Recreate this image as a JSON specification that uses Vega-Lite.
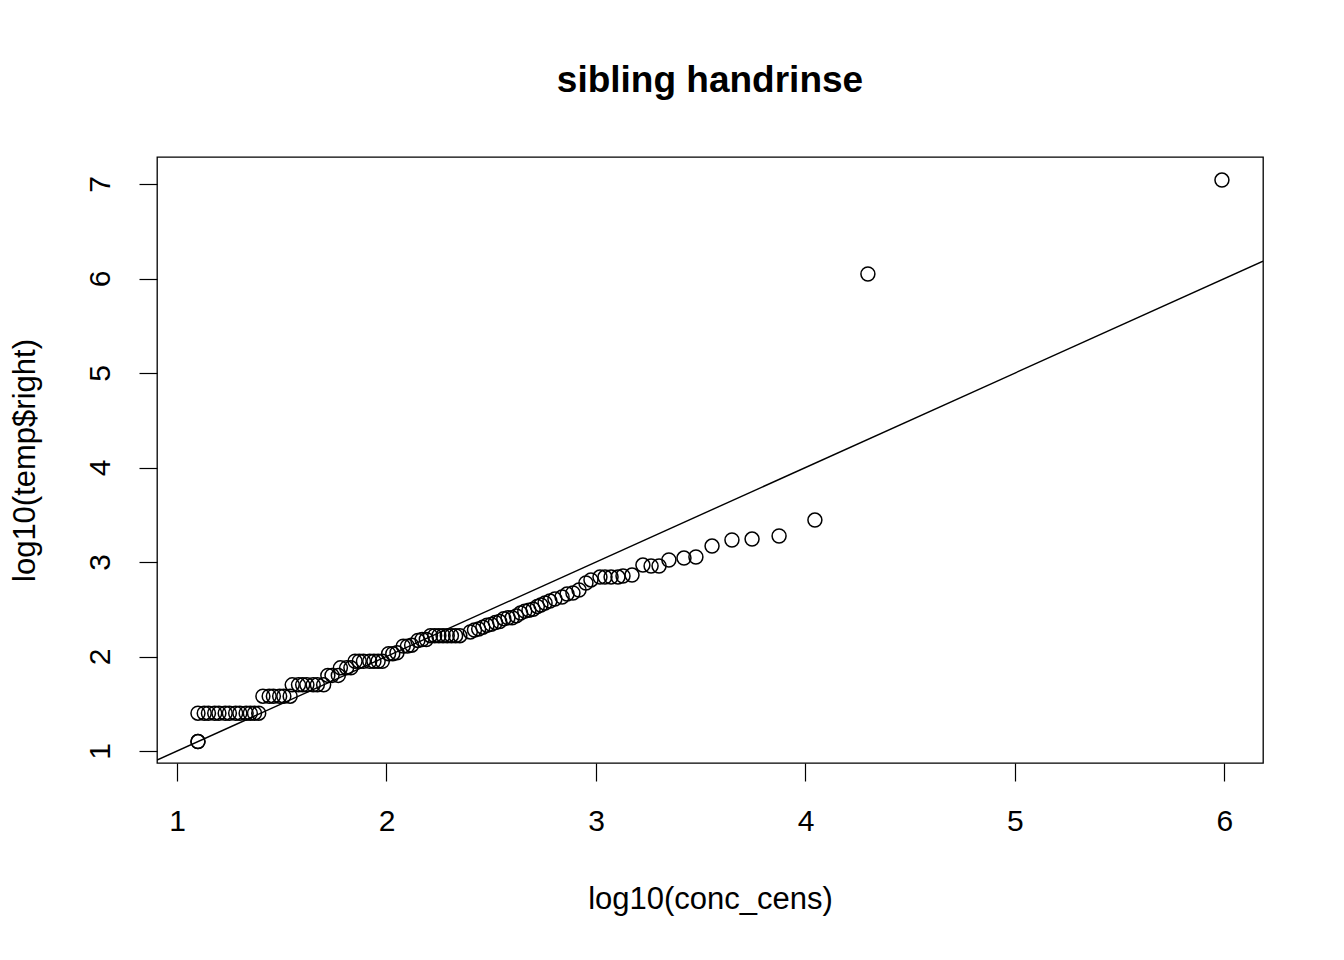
{
  "$schema": "https://vega.github.io/schema/vega-lite/v6.json",
  "width": 1106,
  "height": 606,
  "autosize": "none",
  "padding": {"left": 157, "top": 157, "right": 81, "bottom": 197},
  "background": "white",
  "config": {
    "font": "Liberation Sans",
    "view": {"stroke": "black", "strokeWidth": 1.3},
    "axis": {"grid": false, "domain": false, "tickColor": "black", "tickSize": 18, "tickWidth": 1.2, "labelFont": "Liberation Sans", "labelFontSize": 30, "labelColor": "black", "titleFont": "Liberation Sans", "titleFontSize": 31, "titleFontWeight": "normal", "titleColor": "black", "format": "d"}
  },
  "title": {"text": "sibling handrinse", "fontSize": 37, "fontWeight": "bold", "font": "Liberation Sans", "anchor": "middle", "offset": 57, "color": "black"},
  "datasets": {
    "pts": [
      {"x": 1.10, "y": 1.10}, {"x": 1.10, "y": 1.10},
      {"x": 1.10, "y": 1.40}, {"x": 1.13, "y": 1.40}, {"x": 1.15, "y": 1.40}, {"x": 1.18, "y": 1.40}, {"x": 1.20, "y": 1.40}, {"x": 1.23, "y": 1.40}, {"x": 1.25, "y": 1.40}, {"x": 1.28, "y": 1.40}, {"x": 1.30, "y": 1.40}, {"x": 1.33, "y": 1.40}, {"x": 1.35, "y": 1.40}, {"x": 1.37, "y": 1.40}, {"x": 1.39, "y": 1.40},
      {"x": 1.41, "y": 1.58}, {"x": 1.44, "y": 1.58}, {"x": 1.46, "y": 1.58}, {"x": 1.49, "y": 1.58}, {"x": 1.51, "y": 1.58}, {"x": 1.54, "y": 1.58},
      {"x": 1.55, "y": 1.70}, {"x": 1.58, "y": 1.70}, {"x": 1.60, "y": 1.70}, {"x": 1.62, "y": 1.70}, {"x": 1.65, "y": 1.70}, {"x": 1.67, "y": 1.70}, {"x": 1.70, "y": 1.70},
      {"x": 1.72, "y": 1.80}, {"x": 1.74, "y": 1.80}, {"x": 1.77, "y": 1.80},
      {"x": 1.78, "y": 1.88}, {"x": 1.81, "y": 1.88}, {"x": 1.83, "y": 1.88},
      {"x": 1.85, "y": 1.95}, {"x": 1.87, "y": 1.95}, {"x": 1.89, "y": 1.95}, {"x": 1.92, "y": 1.95}, {"x": 1.94, "y": 1.95}, {"x": 1.96, "y": 1.95}, {"x": 1.98, "y": 1.95},
      {"x": 2.01, "y": 2.03}, {"x": 2.03, "y": 2.03}, {"x": 2.05, "y": 2.04},
      {"x": 2.08, "y": 2.11}, {"x": 2.10, "y": 2.11}, {"x": 2.12, "y": 2.12},
      {"x": 2.15, "y": 2.17}, {"x": 2.17, "y": 2.18}, {"x": 2.19, "y": 2.18},
      {"x": 2.21, "y": 2.22}, {"x": 2.23, "y": 2.22}, {"x": 2.25, "y": 2.22}, {"x": 2.27, "y": 2.22}, {"x": 2.29, "y": 2.22}, {"x": 2.31, "y": 2.22}, {"x": 2.33, "y": 2.22}, {"x": 2.35, "y": 2.22},
      {"x": 2.40, "y": 2.26}, {"x": 2.42, "y": 2.28}, {"x": 2.44, "y": 2.29}, {"x": 2.46, "y": 2.31}, {"x": 2.48, "y": 2.33}, {"x": 2.50, "y": 2.34}, {"x": 2.52, "y": 2.36}, {"x": 2.54, "y": 2.37}, {"x": 2.56, "y": 2.40}, {"x": 2.58, "y": 2.41}, {"x": 2.60, "y": 2.41}, {"x": 2.62, "y": 2.43}, {"x": 2.64, "y": 2.46}, {"x": 2.66, "y": 2.48}, {"x": 2.68, "y": 2.49}, {"x": 2.70, "y": 2.50}, {"x": 2.72, "y": 2.53},
      {"x": 2.737, "y": 2.545}, {"x": 2.757, "y": 2.566}, {"x": 2.780, "y": 2.587}, {"x": 2.804, "y": 2.608}, {"x": 2.838, "y": 2.630}, {"x": 2.862, "y": 2.661}, {"x": 2.890, "y": 2.672}, {"x": 2.919, "y": 2.704}, {"x": 2.952, "y": 2.778}, {"x": 2.976, "y": 2.810}, {"x": 3.019, "y": 2.841}, {"x": 3.043, "y": 2.841}, {"x": 3.072, "y": 2.841}, {"x": 3.105, "y": 2.841}, {"x": 3.129, "y": 2.852}, {"x": 3.172, "y": 2.862}, {"x": 3.224, "y": 2.968}, {"x": 3.263, "y": 2.958}, {"x": 3.301, "y": 2.958}, {"x": 3.348, "y": 3.021}, {"x": 3.420, "y": 3.042}, {"x": 3.477, "y": 3.053}, {"x": 3.554, "y": 3.169}, {"x": 3.649, "y": 3.233}, {"x": 3.745, "y": 3.243}, {"x": 3.874, "y": 3.275}, {"x": 4.045, "y": 3.444}, {"x": 4.298, "y": 6.048}, {"x": 5.988, "y": 7.042}
    ],
    "ref": [
      {"x": 0.9045, "y": 0.9045},
      {"x": 6.184, "y": 6.184}
    ]
  },
  "layer": [
    {
      "data": {"name": "ref"},
      "mark": {"type": "line", "color": "black", "strokeWidth": 1.4, "clip": true},
      "encoding": {
        "x": {"field": "x", "type": "quantitative"},
        "y": {"field": "y", "type": "quantitative"}
      }
    },
    {
      "data": {"name": "pts"},
      "mark": {"type": "point", "shape": "circle", "filled": false, "color": "black", "size": 195, "strokeWidth": 1.5, "opacity": 1},
      "encoding": {
        "x": {"field": "x", "type": "quantitative", "scale": {"domain": [0.9045, 6.184], "nice": false, "zero": false}, "axis": {"values": [1, 2, 3, 4, 5, 6], "title": "log10(conc_cens)", "labelPadding": 25, "titlePadding": 48}},
        "y": {"field": "y", "type": "quantitative", "scale": {"domain": [0.873, 7.286], "nice": false, "zero": false}, "axis": {"values": [1, 2, 3, 4, 5, 6, 7], "title": "log10(temp$right)", "labelAngle": -90, "labelAlign": "center", "labelBaseline": "bottom", "labelPadding": 24, "titlePadding": 44}}
      }
    }
  ]
}
